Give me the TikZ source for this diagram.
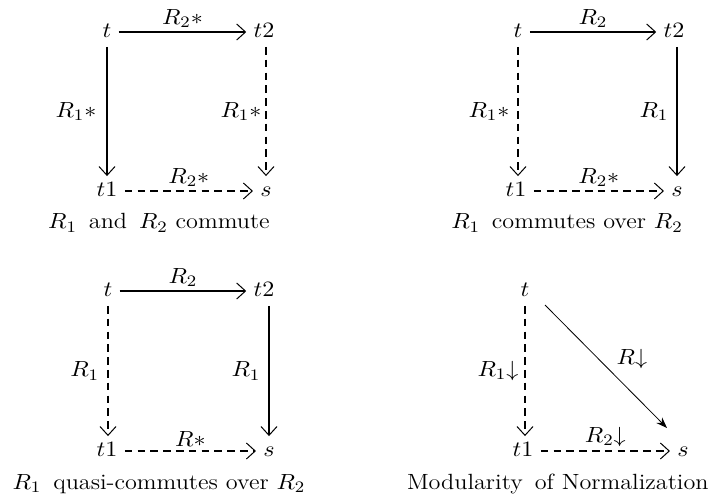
\documentclass[tikz,border=0pt]{standalone}
\usepackage{graphicx}
\usetikzlibrary{arrows.meta}
\newcommand{\hs}[1]{\scalebox{1.1}[1]{#1}}
\begin{document}
\begin{tikzpicture}[x=0.5pt,y=-0.5pt,
  font=\fontsize{11}{13}\selectfont,
  obj/.style={inner sep=3.5pt, text height=1.5ex, text depth=0.25ex},
  sarr/.style={line width=0.6pt,-{Straight Barb[length=4.4pt,width=8pt,line width=0.5pt]}},
  darr/.style={sarr,dash pattern=on 3.8pt off 2.6pt},
  farr/.style={line width=0.4pt,-{Stealth[length=5.5pt,width=4pt]}},
  lab/.style={inner sep=2pt},
  captext/.style={inner sep=0pt}]
\useasboundingbox (0,0) rectangle (714,504);
% Diagram 1
\node[obj] (a1) at (107,32) {\hs{$t$}};
\node[obj] (a2) at (264,32) {\hs{$t2$}};
\node[obj] (a3) at (107,191) {\hs{$t1$}};
\node[obj] (a4) at (266,191) {\hs{$s$}};
\draw[sarr] (a1) -- node[lab,above]{\hs{$R_2*$}} (a2);
\draw[sarr] (a1) -- node[lab,left,xshift=-3pt]{\hs{$R_1*$}} (a1|-a3.north);
\draw[darr] (a4|-a2.south) -- node[lab,left]{\hs{$R_1*$}} (a4);
\draw[darr] (a3) -- node[lab,above]{\hs{$R_2*$}} (a4);
\node[captext] (c1) at (159,223) {\hs{$R_1$\, and\, $R_2$ commute}};
% Diagram 2
\node[obj] (b1) at (518,32) {\hs{$t$}};
\node[obj] (b2) at (674,32) {\hs{$t2$}};
\node[obj] (b3) at (516,191) {\hs{$t1$}};
\node[obj] (b4) at (677,191) {\hs{$s$}};
\draw[sarr] (b1) -- node[lab,above]{\hs{$R_2$}} (b2);
\draw[darr] (b1) -- node[lab,left,xshift=-2pt]{\hs{$R_1*$}} (b1|-b3.north);
\draw[sarr] (b4|-b2.south) -- node[lab,left,xshift=-2pt]{\hs{$R_1$}} (b4);
\draw[darr] (b3) -- node[lab,above]{\hs{$R_2*$}} (b4);
\node[captext] (c2) at (567,223) {\hs{$R_1$\, commutes over $R_2$}};
% Diagram 3
\node[obj] (d1) at (108,291) {\hs{$t$}};
\node[obj] (d2) at (264,291) {\hs{$t2$}};
\node[obj] (d3) at (107,451) {\hs{$t1$}};
\node[obj] (d4) at (269,451) {\hs{$s$}};
\draw[sarr] (d1) -- node[lab,above]{\hs{$R_2$}} (d2);
\draw[darr,line width=0.9pt] (d1) -- node[lab,left,xshift=-2pt]{\hs{$R_1$}} (d1|-d3.north);
\draw[sarr] (d4|-d2.south) -- node[lab,left,xshift=-2pt]{\hs{$R_1$}} (d4);
\draw[darr] (d3) -- node[lab,above]{\hs{$R*$}} (d4);
\node[captext] (c3) at (159,484) {\hs{$R_1$\, quasi-commutes over $R_2$}};
% Diagram 4
\node[obj] (e1) at (525,291) {\hs{$t$}};
\node[obj] (e3) at (523,451) {\hs{$t1$}};
\node[obj] (e4) at (683,451) {\hs{$s$}};
\coordinate (e0) at (545,305);
\coordinate (e5) at (667,428);
\draw[darr] (e1) -- node[lab,left,xshift=-1pt]{\hs{$R_1{\downarrow}$}} (e1|-e3.north);
\draw[farr] (e0) -- node[lab,pos=0.5,xshift=13pt,yshift=3.5pt]{\hs{$R{\downarrow}$}} (e5);
\draw[darr] (e3) -- node[lab,above]{\hs{$R_2{\downarrow}$}} (e4);
\node[captext,anchor=east] (c4) at (709,484) {\hs{Modularity\, of Normalization}};
\end{tikzpicture}
\end{document}
